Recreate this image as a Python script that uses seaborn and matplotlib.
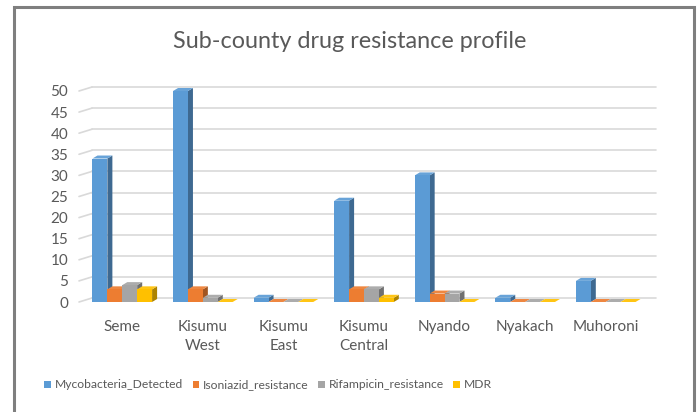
import matplotlib
matplotlib.use("Agg")
import matplotlib.pyplot as plt
import matplotlib.transforms as mtransforms
from matplotlib.patches import Polygon, Rectangle
from matplotlib.colors import to_rgb
import numpy as np
import pandas as pd
import seaborn as sns

# Sub-county results
sub_counties = ["Seme", "Kisumu\nWest", "Kisumu\nEast", "Kisumu\nCentral",
                "Nyando", "Nyakach", "Muhoroni"]
mycobacteria_detected = [34, 50, 1, 24, 30, 1, 5]
isoniazid_resistance = [3, 3, 0, 3, 2, 0, 0]
rifampicin_resistance = [4, 1, 0, 3, 2, 0, 0]
mdr = [3, 0, 0, 1, 0, 0, 0]
series_names = ["Mycobacteria_Detected", "Isoniazid_resistance",
                "Rifampicin_resistance", "MDR"]
y_ticks = list(range(0, 55, 5))
colors = ["#5B9BD5", "#ED7D31", "#A5A5A5", "#FFC000"]
title = "Sub-county drug resistance profile"

df = pd.DataFrame({
    "sub_county": sub_counties * 4,
    "series": np.repeat(series_names, len(sub_counties)),
    "count": mycobacteria_detected + isoniazid_resistance + rifampicin_resistance + mdr,
})

sns.set_theme(style="white")
plt.rcParams["font.family"] = ["Lato", "DejaVu Sans"]
text_grey = "#595959"
grid_grey = "#d9d9d9"

W, H = 699, 412
fig = plt.figure(figsize=(W / 100, H / 100), dpi=100)
ax = fig.add_axes([82 / W, 110 / H, 564 / W, 211 / H])

sns.barplot(data=df, x="sub_county", y="count", hue="series", palette=colors,
            width=0.74, ax=ax, legend=False, saturation=1, linewidth=0)
ax.set_ylim(0, 50)
ax.set_xlim(-0.5, len(sub_counties) - 0.5)

# pseudo-3D depth (pixels)
depth_dx, depth_dy = 5, 3
grid_dx, grid_dy = 10, 4

def shade(c, f):
    r, g, b = to_rgb(c)
    return (r * f, g * f, b * f)

def tint(c, f):
    r, g, b = to_rgb(c)
    return (r + (1 - r) * f, g + (1 - g) * f, b + (1 - b) * f)

fig.canvas.draw()
bars = sorted(ax.patches, key=lambda p: p.get_x())
ident = mtransforms.IdentityTransform()
for i, bar in enumerate(bars):
    base = 3 + i * 0.01
    col = bar.get_facecolor()
    x0, w, h = bar.get_x(), bar.get_width(), bar.get_height()
    (px0, py0), (px1, py1) = ax.transData.transform([(x0, 0), (x0 + w, h)])
    side = Polygon([(px1, py0), (px1 + depth_dx, py0 + depth_dy),
                    (px1 + depth_dx, py1 + depth_dy), (px1, py1)],
                   closed=True, transform=ident, facecolor=shade(col, 0.68),
                   edgecolor="none", zorder=base, clip_on=False)
    top = Polygon([(px0, py1), (px1, py1), (px1 + depth_dx, py1 + depth_dy),
                   (px0 + depth_dx, py1 + depth_dy)],
                  closed=True, transform=ident, facecolor=tint(col, 0.08),
                  edgecolor="none", zorder=base, clip_on=False)
    ax.add_artist(side)
    ax.add_artist(top)
    bar.set_zorder(base + 0.005)
    bar.set_edgecolor("none")

# back-wall gridlines with short floor diagonals
offset = mtransforms.ScaledTranslation(grid_dx / 100, grid_dy / 100, fig.dpi_scale_trans)
blend = mtransforms.blended_transform_factory(ax.transAxes, ax.transData)
for v in y_ticks:
    ax.plot([0, 1], [v, v], transform=blend + offset, color=grid_grey,
            lw=1.2, zorder=1, clip_on=False)
    p0 = blend.transform((0, v)) + np.array([-3, 0])
    p1 = (blend + offset).transform((0, v))
    ax.add_line(plt.Line2D([p0[0], p1[0]], [p0[1], p1[1]], transform=ident,
                           color=grid_grey, lw=1.2, zorder=1, clip_on=False))

ax.set_yticks(y_ticks)
ax.set_xlabel("")
ax.set_ylabel("")
ax.tick_params(axis="both", length=0, colors=text_grey, labelsize=11)
ax.tick_params(axis="x", pad=13)
ax.tick_params(axis="y", pad=10)
for lbl in ax.get_xticklabels():
    lbl.set_linespacing(1.45)
for s in ax.spines.values():
    s.set_visible(False)
ax.set_facecolor("none")

fig.text(0.5, 1 - 42 / H, title, ha="center", va="center",
         fontsize=16.8, color=text_grey)

handles = [Rectangle((0, 0), 1, 1, facecolor=c, edgecolor="none") for c in colors]
fig.legend(handles, series_names, loc="center", bbox_to_anchor=(268 / W, 1 - 385 / H),
           ncol=4, frameon=False, handlelength=0.55, handleheight=0.55,
           handletextpad=0.3, columnspacing=0.8, fontsize=8.7, labelcolor=text_grey,
           borderaxespad=0, borderpad=0)

# chart border
fig.patches.append(Rectangle((14 / W, -0.1), (694 - 14) / W, 1.1 - 7 / H,
                             transform=fig.transFigure, fill=False,
                             edgecolor="#7f7f7f", linewidth=2.2, zorder=10))

fig.savefig("out.png", dpi=100)
